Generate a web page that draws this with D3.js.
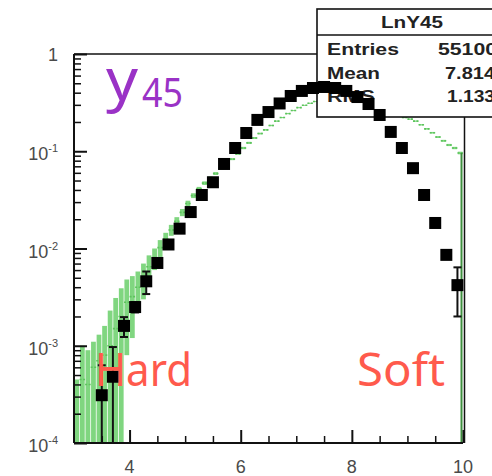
<!DOCTYPE html>
<html>
<head>
<meta charset="utf-8">
<script src="https://cdn.jsdelivr.net/npm/d3@7"></script>
<style>
  html, body { margin: 0; padding: 0; background: #fff; }
  svg { display: block; }
</style>
</head>
<body>
<div id="chart"></div>
<script>
// ---------------- data ----------------
// black points (bin width 0.2)
const blackCenters = [3.5,3.7,3.9,4.1,4.3,4.5,4.7,4.9,5.1,5.3,5.5,5.7,5.9,6.1,6.3,6.5,6.7,6.9,7.1,7.3,7.5,7.7,7.9,8.1,8.3,8.5,8.7,8.9,9.1,9.3,9.5,9.7,9.9];
const blackValues = [3.1e-4,4.8e-4,1.6e-3,2.5e-3,4.6e-3,7.1e-3,0.011,0.016,0.0237,0.0355,0.048,0.074,0.108,0.154,0.21,0.253,0.31,0.37,0.417,0.447,0.458,0.447,0.417,0.361,0.306,0.236,0.158,0.108,0.067,0.0355,0.0183,0.0086,0.0042];
const blackErrors = [3.2e-4,4.9e-4,3.7e-4,3e-4,1.2e-3,5e-4,6e-4,8e-4,1e-3,1.2e-3,1.5e-3,2e-3,2.5e-3,3e-3,3.5e-3,4e-3,4e-3,4.5e-3,5e-3,5e-3,5e-3,5e-3,5e-3,4.5e-3,4e-3,3.5e-3,3e-3,2.5e-3,2e-3,1.5e-3,1e-3,8e-4,2.2e-3];

// green histogram (bin width 0.1)
const greenCenters = [3.05,3.15,3.25,3.35,3.45,3.55,3.65,3.75,3.85,3.95,
  4.05,4.15,4.25,4.35,4.45,4.55,4.65,4.75,4.85,4.95,
  5.05,5.15,5.25,5.35,5.45,5.55,5.65,5.75,5.85,5.95,
  6.05,6.15,6.25,6.35,6.45,6.55,6.65,6.75,6.85,6.95,
  7.05,7.15,7.25,7.35,7.45,7.55,7.65,7.75,7.85,7.95,
  8.05,8.15,8.25,8.35,8.45,8.55,8.65,8.75,8.85,8.95,
  9.05,9.15,9.25,9.35,9.45,9.55,9.65,9.75,9.85,9.95];
const greenValues = [2e-4,4.5e-4,4e-4,6e-4,7e-4,8e-4,1.0e-3,1.5e-3,2.0e-3,2.8e-3,
  3.2e-3,4.0e-3,5.0e-3,6.5e-3,8.0e-3,0.0102,0.0125,0.0155,0.019,0.0235,
  0.029,0.035,0.041,0.047,0.053,0.059,0.067,0.075,0.083,0.094,
  0.108,0.122,0.137,0.152,0.166,0.184,0.204,0.222,0.244,0.262,
  0.281,0.297,0.312,0.325,0.334,0.342,0.349,0.352,0.352,0.350,
  0.345,0.336,0.326,0.312,0.298,0.284,0.265,0.250,0.233,0.222,
  0.214,0.204,0.187,0.170,0.155,0.140,0.128,0.116,0.108,0.096];
const greenErrors = [2.5e-4,5.5e-4,5e-4,5e-4,6e-4,8e-4,1.3e-3,1.6e-3,1.9e-3,2.0e-3,
  2.0e-3,1.8e-3,2.0e-3,2.0e-3,2.0e-3,2.0e-3,2e-3,2e-3,2e-3,2e-3,
  2e-3,2e-3,2e-3,2e-3,2e-3,2e-3,2e-3,2e-3,2e-3,2e-3,
  3e-3,3e-3,3e-3,3e-3,3e-3,3e-3,3e-3,3e-3,3e-3,3e-3,
  3e-3,3e-3,3e-3,3e-3,3e-3,3e-3,3e-3,3e-3,3e-3,3e-3,
  3e-3,3e-3,3e-3,3e-3,3e-3,3e-3,3e-3,3e-3,3e-3,3e-3,
  3e-3,3e-3,3e-3,3e-3,3e-3,3e-3,3e-3,3e-3,3e-3,3e-3];

const xMajorTicks = [4, 6, 8, 10];
const xMinorTicks = [3.5, 4.5, 5, 5.5, 6.5, 7, 7.5, 8.5, 9, 9.5];
const yMajorTicks = [1e-4, 1e-3, 1e-2, 1e-1, 1];
const yTickLabels = ["10|-4", "10|-3", "10|-2", "10|-1", "1"];

const statsTitle = "LnY45";
const statsNames = ["Entries", "Mean", "RMS"];
const statsValues = ["55100", "7.814", "1.133"];

// ---------------- chart ----------------
const W = 492, H = 476;
const svg = d3.select("#chart").append("svg").attr("width", W).attr("height", H);

const x = d3.scaleLinear().domain([3, 10]).range([74, 463]);
const y = d3.scaleLog().domain([1e-4, 1]).range([443, 54]);
const yC = v => y(Math.max(1e-4, Math.min(1, v)));

// green histogram
const gData = greenCenters.map((c, i) => ({c, v: greenValues[i], e: greenErrors[i]}));
const gG = svg.append("g");
gG.selectAll("rect.err").data(gData).enter().append("rect")
  .attr("x", d => x(d.c - 0.043))
  .attr("width", d => x(d.c + 0.043) - x(d.c - 0.043))
  .attr("y", d => yC(d.v + d.e))
  .attr("height", d => Math.max(1, (d.v - d.e > 1e-4 ? y(d.v - d.e) : 443) - yC(d.v + d.e)))
  .attr("fill", "#80d680");
gG.selectAll("line.h").data(gData).enter().append("line")
  .attr("x1", d => x(d.c - 0.05)).attr("x2", d => x(d.c + 0.05))
  .attr("y1", d => y(d.v)).attr("y2", d => y(d.v))
  .attr("stroke", "#5cc45c").attr("stroke-width", 1.6)
  .attr("stroke-dasharray", "2,1.5");
// closing edge of histogram at upper limit
const lastG = gData[gData.length - 1];
gG.append("line")
  .attr("x1", x(10) - 1.5).attr("x2", x(10) - 1.5)
  .attr("y1", y(lastG.v)).attr("y2", y(1e-4))
  .attr("stroke", "#3f8f3f").attr("stroke-width", 2);

// frame
const frame = svg.append("g").attr("stroke", "#111").attr("fill", "none");
frame.append("line").attr("x1", x(3)).attr("x2", x(3)).attr("y1", y(1)).attr("y2", y(1e-4)).attr("stroke-width", 2);
frame.append("line").attr("x1", x(3)).attr("x2", x(10)).attr("y1", y(1e-4)).attr("y2", y(1e-4)).attr("stroke-width", 2);
frame.append("line").attr("x1", x(3)).attr("x2", x(10) + 1.5).attr("y1", y(1)).attr("y2", y(1)).attr("stroke-width", 1.5);
frame.append("line").attr("x1", x(10) + 1.5).attr("x2", x(10) + 1.5).attr("y1", y(1)).attr("y2", y(1e-4)).attr("stroke-width", 1.5);

// y ticks (inside)
const yMinor = [];
yMajorTicks.slice(0, -1).forEach(d => { for (let k = 2; k <= 9; k++) yMinor.push(d * k); });
svg.append("g").attr("transform", `translate(${x(3)},0)`)
  .call(d3.axisRight(y).tickValues(yMajorTicks).tickSize(13).tickFormat(""))
  .call(g => g.select(".domain").remove())
  .call(g => g.selectAll("line").attr("stroke", "#111").attr("stroke-width", 2));
svg.append("g").attr("transform", `translate(${x(3)},0)`)
  .call(d3.axisRight(y).tickValues(yMinor).tickSize(7).tickFormat(""))
  .call(g => g.select(".domain").remove())
  .call(g => g.selectAll("line").attr("stroke", "#111").attr("stroke-width", 1.5));

// x ticks (inside)
svg.append("g").attr("transform", `translate(0,${y(1e-4)})`)
  .call(d3.axisTop(x).tickValues(xMajorTicks).tickSize(13).tickFormat(""))
  .call(g => g.select(".domain").remove())
  .call(g => g.selectAll("line").attr("stroke", "#111").attr("stroke-width", 2));
svg.append("g").attr("transform", `translate(0,${y(1e-4)})`)
  .call(d3.axisTop(x).tickValues(xMinorTicks).tickSize(7).tickFormat(""))
  .call(g => g.select(".domain").remove())
  .call(g => g.selectAll("line").attr("stroke", "#111").attr("stroke-width", 1.5));

// tick labels
const labFont = "'Liberation Sans', Arial, Helvetica, sans-serif";
yMajorTicks.forEach((v, i) => {
  const parts = yTickLabels[i].split("|");
  const t = svg.append("text")
    .attr("x", 58).attr("y", y(v) + (parts.length > 1 ? 9 : 6.5))
    .attr("text-anchor", "end")
    .attr("font-family", labFont).attr("font-size", 18).attr("fill", "#4a4a4a");
  t.append("tspan").text(parts[0]);
  if (parts.length > 1) {
    t.append("tspan").attr("dy", -8).attr("font-size", 11).text(parts[1]);
  }
});
svg.selectAll("text.xl").data(xMajorTicks).enter().append("text")
  .attr("x", d => x(d)).attr("y", 473)
  .attr("text-anchor", "middle")
  .attr("font-family", labFont).attr("font-size", 18).attr("fill", "#4a4a4a")
  .text(d => d);

// stats box
const box = svg.append("g");
box.append("rect").attr("x", 317).attr("y", 9).attr("width", 200).attr("height", 108)
  .attr("fill", "#fff").attr("stroke", "#111").attr("stroke-width", 1.6);
box.append("line").attr("x1", 317).attr("x2", 517).attr("y1", 35).attr("y2", 35)
  .attr("stroke", "#111").attr("stroke-width", 1.6);
box.append("text").attr("x", 381).attr("y", 28).attr("textLength", 62).attr("lengthAdjust", "spacingAndGlyphs")
  .attr("font-family", labFont).attr("font-weight", "bold").attr("font-size", 16).attr("fill", "#222")
  .text(statsTitle);
const rowY = [55, 79, 102];
const nameLen = [72, 53, 48];
const valStart = [438, 445, 447];
const valLen = [59, 50, 48];
statsNames.forEach((n, i) => {
  box.append("text").attr("x", 327).attr("y", rowY[i]).attr("textLength", nameLen[i]).attr("lengthAdjust", "spacingAndGlyphs")
    .attr("font-family", labFont).attr("font-weight", "bold").attr("font-size", 16).attr("fill", "#222")
    .text(n);
  box.append("text").attr("x", valStart[i]).attr("y", rowY[i]).attr("textLength", valLen[i]).attr("lengthAdjust", "spacingAndGlyphs")
    .attr("font-family", labFont).attr("font-weight", "bold").attr("font-size", 16).attr("fill", "#222")
    .text(statsValues[i]);
});

// black points with error bars
const bData = blackCenters.map((c, i) => ({c, v: blackValues[i], e: blackErrors[i]}));
const bG = svg.append("g");
bG.selectAll("line.eb").data(bData).enter().append("line")
  .attr("x1", d => x(d.c)).attr("x2", d => x(d.c))
  .attr("y1", d => yC(d.v + d.e))
  .attr("y2", d => d.v - d.e > 1e-4 ? y(d.v - d.e) : y(1e-4))
  .attr("stroke", "#111").attr("stroke-width", 2);
bG.selectAll("line.capT").data(bData).enter().append("line")
  .attr("x1", d => x(d.c) - 4).attr("x2", d => x(d.c) + 4)
  .attr("y1", d => yC(d.v + d.e)).attr("y2", d => yC(d.v + d.e))
  .attr("stroke", "#111").attr("stroke-width", 2);
bG.selectAll("line.capB").data(bData.filter(d => d.v - d.e > 1e-4)).enter().append("line")
  .attr("x1", d => x(d.c) - 4).attr("x2", d => x(d.c) + 4)
  .attr("y1", d => y(d.v - d.e)).attr("y2", d => y(d.v - d.e))
  .attr("stroke", "#111").attr("stroke-width", 2);
bG.selectAll("rect.m").data(bData).enter().append("rect")
  .attr("x", d => x(d.c) - 6).attr("y", d => y(d.v) - 6)
  .attr("width", 12).attr("height", 12)
  .attr("fill", "#000");

// annotations
const annFont = "'Noto Sans', 'DejaVu Sans', sans-serif";
svg.append("text").attr("x", 106).attr("y", 100)
  .attr("font-family", annFont).attr("font-size", 58).attr("fill", "#9a32c6")
  .attr("textLength", 32).attr("lengthAdjust", "spacingAndGlyphs")
  .text("y");
svg.append("text").attr("x", 142).attr("y", 107)
  .attr("font-family", annFont).attr("font-size", 40).attr("fill", "#9a32c6")
  .attr("textLength", 41).attr("lengthAdjust", "spacingAndGlyphs")
  .text("45");
svg.append("text").attr("x", 95).attr("y", 386)
  .attr("font-family", annFont).attr("font-size", 45).attr("fill", "#ff5a4c")
  .attr("textLength", 97).attr("lengthAdjust", "spacingAndGlyphs")
  .text("Hard");
svg.append("text").attr("x", 357).attr("y", 386)
  .attr("font-family", annFont).attr("font-size", 45).attr("fill", "#ff5a4c")
  .attr("textLength", 88).attr("lengthAdjust", "spacingAndGlyphs")
  .text("Soft");
</script>
</body>
</html>
